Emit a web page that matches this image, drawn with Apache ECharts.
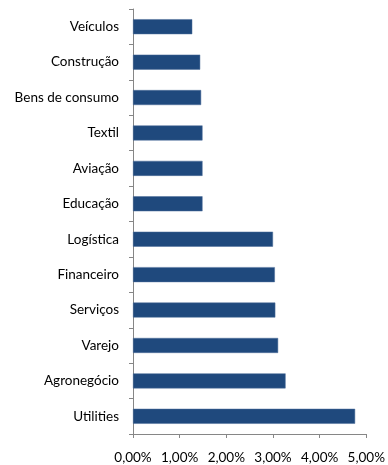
<!DOCTYPE html>
<html>
<head>
<meta charset="utf-8">
<script src="https://cdn.jsdelivr.net/npm/echarts@6/dist/echarts.min.js"></script>
<style>
html, body { margin: 0; padding: 0; background: #fff; }
#chart { width: 388px; height: 465px; }
</style>
</head>
<body>
<div id="chart"></div>
<script>
// setores, de cima para baixo
var setores = ['Veículos', 'Construção', 'Bens de consumo', 'Textil', 'Aviação', 'Educação',
	'Logística', 'Financeiro', 'Serviços', 'Varejo', 'Agronegócio', 'Utilities'];
// valores em %
var valores = [1.27, 1.44, 1.46, 1.49, 1.49, 1.49, 3.00, 3.04, 3.05, 3.11, 3.27, 4.76];

var fonte = 'Lato, "Open Sans", sans-serif';

var chart = echarts.init(document.getElementById('chart'));
chart.setOption({
	animation: false,
	grid: { left: 133, right: 21, top: 9, bottom: 31 },
	xAxis: {
		type: 'value',
		min: 0,
		max: 5,
		interval: 1,
		axisLine: { show: true, lineStyle: { color: '#868686', width: 1 } },
		axisTick: { show: true, length: 4, lineStyle: { color: '#868686' } },
		splitLine: { show: false },
		axisLabel: {
			margin: 17,
			color: '#000',
			fontFamily: fonte,
			fontSize: 13.5,
			formatter: function (v) { return v.toFixed(2).replace('.', ',') + '%'; }
		}
	},
	yAxis: {
		type: 'category',
		inverse: true,
		data: setores,
		axisLine: { show: true, lineStyle: { color: '#868686', width: 1 } },
		axisTick: { show: true, length: 4, lineStyle: { color: '#868686' } },
		axisLabel: { margin: 14, color: '#000', fontFamily: fonte, fontSize: 13.5 }
	},
	series: [{
		type: 'bar',
		data: valores,
		barWidth: 15,
		itemStyle: { color: '#1F497D', borderColor: '#4F6F9A', borderWidth: 0.5 }
	}]
});
</script>
</body>
</html>
